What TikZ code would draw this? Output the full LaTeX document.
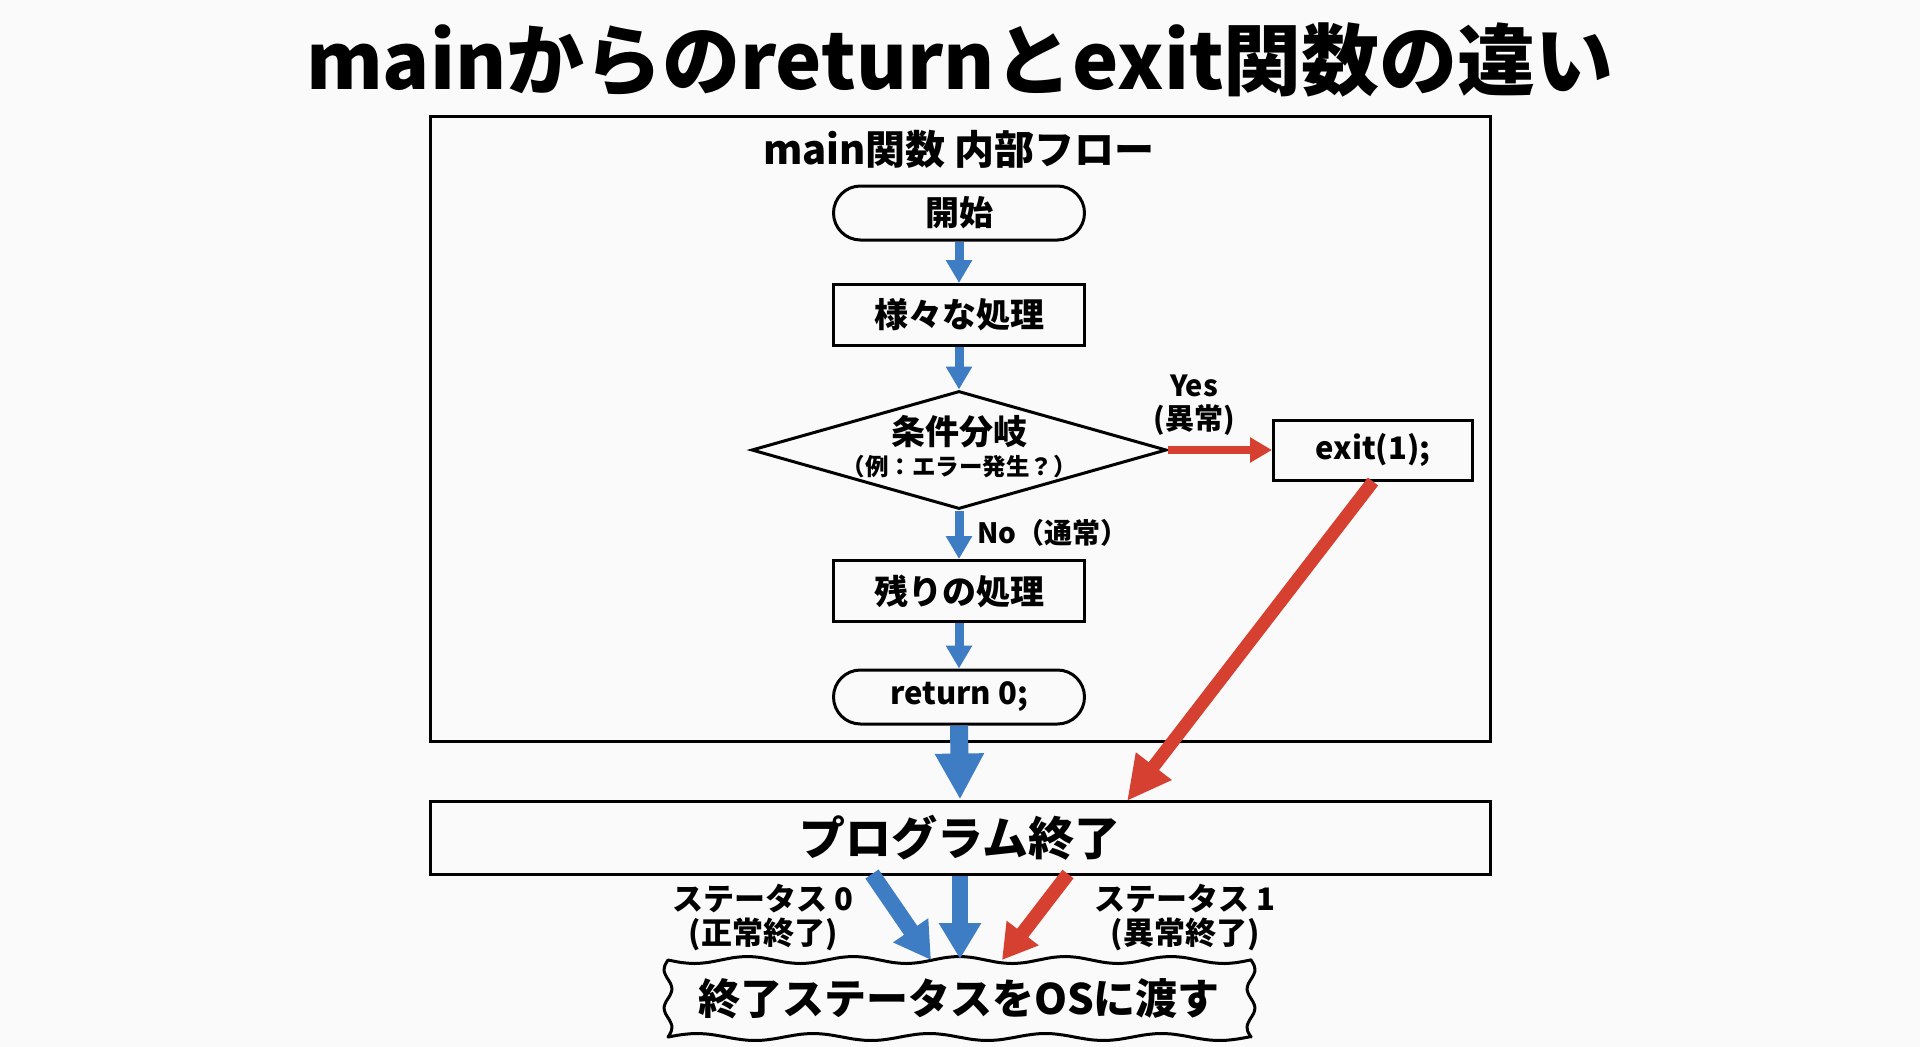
\documentclass[tikz,border=0pt]{standalone}
\usepackage{fontspec}
\setmainfont{Noto Sans CJK JP}
\usetikzlibrary{arrows.meta,shapes.geometric}
\definecolor{fblue}{RGB}{62,124,195}
\definecolor{fred}{RGB}{214,64,48}
\definecolor{bg}{RGB}{250,250,250}
\newcommand{\fs}[1]{\fontsize{#1}{#1}\selectfont\bfseries}
\begin{document}
\begin{tikzpicture}[x=1pt,y=-1pt,
  box/.style={draw, line width=3pt, minimum width=251pt, minimum height=61pt, inner sep=0pt, font=\fs{34}},
  term/.style={box, minimum height=54pt, rounded corners=27pt},
  lbl/.style={align=center, inner sep=0pt, font=\fontsize{31}{34}\selectfont\bfseries},
  barrow/.style={fblue, line width=9pt, -{Triangle[width=25pt,length=23pt]}},
  rarrow/.style={fred, line width=8pt, -{Triangle[width=24pt,length=22pt]}},
  bigblue/.style={fblue, line width=18pt, -{Triangle[width=46pt,length=46pt]}},
  bigred/.style={fred, line width=13pt, -{Triangle[width=42pt,length=44pt]}},
  midblue/.style={fblue, line width=16pt, -{Triangle[width=40pt,length=36pt]}},
  midred/.style={fred, line width=14pt, -{Triangle[width=38pt,length=34pt]}}]
\fill[bg] (0,0) rectangle (1920,1047);
\useasboundingbox (0,0) rectangle (1920,1047);

\node[font=\fs{78}, inner sep=0pt] (title) at (960,60) {mainからのreturnとexit関数の違い};

\node[draw, line width=3pt, minimum width=1060pt, minimum height=625pt, inner sep=0pt] (frame) at (960,428.5) {};
\node[font=\fs{40}, inner sep=0pt] (ftitle) at (959,149) {main関数 内部フロー};

\node[term] (start) at (959,213) {開始};
\node[box] (proc) at (959,315) {様々な処理};
\node[diamond, draw, line width=3pt, minimum width=415pt, minimum height=118pt, inner sep=0pt, aspect=3.5] (cond) at (959,450) {};
\node[font=\fs{34}, inner sep=0pt] (condA) at (959,432) {条件分岐};
\node[font=\fs{23.5}, inner sep=0pt] (condB) at (959,467) {（例：エラー発生？）};
\node[box, font=\fs{31}, minimum width=199pt, minimum height=60pt] (exit) at (1373,450) {exit(1);};
\node[box] (rest) at (959,591) {残りの処理};
\node[term, font=\fs{31}] (ret) at (959,697) {return 0;};

\node[draw, line width=3pt, minimum width=1060pt, minimum height=73pt, inner sep=0pt, font=\fs{46}] (end) at (960,837.5) {プログラム終了};
\node[inner sep=0pt, font=\fs{42}] (os) at (959,998.5) {終了ステータスをOSに渡す};
\def\L{668}\def\R{1251}\def\T{960}\def\B{1037}
\draw[line width=3pt, line join=round]
  plot[smooth, domain=\L:\R, samples=45] (\x, {\T+3.5*sin((\x-\L)*3.4)})
  -- plot[smooth, domain=\T:\B, samples=14] ({\R+4*sin((\x-\T)*9.35)}, \x)
  -- plot[smooth, domain=\R:\L, samples=45] (\x, {\B-3.5*sin((\x-\L)*3.1)})
  -- plot[smooth, domain=\B:\T, samples=14] ({\L-4*sin((\x-\T)*9.35)}, \x) -- cycle;

% labels
\node[lbl, font=\fontsize{29}{33}\selectfont\bfseries] (yes) at (1194,405) {Yes\\(異常)};
\node[lbl, font=\fontsize{28}{33}\selectfont\bfseries, anchor=west] (no) at (977,533) {No（通常）};
\node[lbl] (st0) at (763,917) {ステータス 0\\(正常終了)};
\node[lbl] (st1) at (1185,917) {ステータス 1\\(異常終了)};

% connectors
\draw[barrow] (start.south) -- (proc.north);
\draw[barrow] (proc.south) -- (cond.north);
\draw[barrow] (cond.south) -- (rest.north);
\draw[barrow] (rest.south) -- (ret.north);
\draw[rarrow] (cond.east) -- (exit.west);
\draw[bigblue] (ret.south) -- (end.north);
\coordinate (redtip) at (1127,801);
\draw[bigred] (exit.south) -- (redtip);
\coordinate (b1s) at (872,874);
\coordinate (b1e) at (931,960);
\coordinate (b3s) at (1068,874);
\coordinate (b3e) at (1002,960);
\coordinate (b2e) at (960,959);
\draw[midblue] (b1s) -- (b1e);
\draw[midblue] (end.south) -- (b2e);
\draw[midred] (b3s) -- (b3e);
\end{tikzpicture}
\end{document}
